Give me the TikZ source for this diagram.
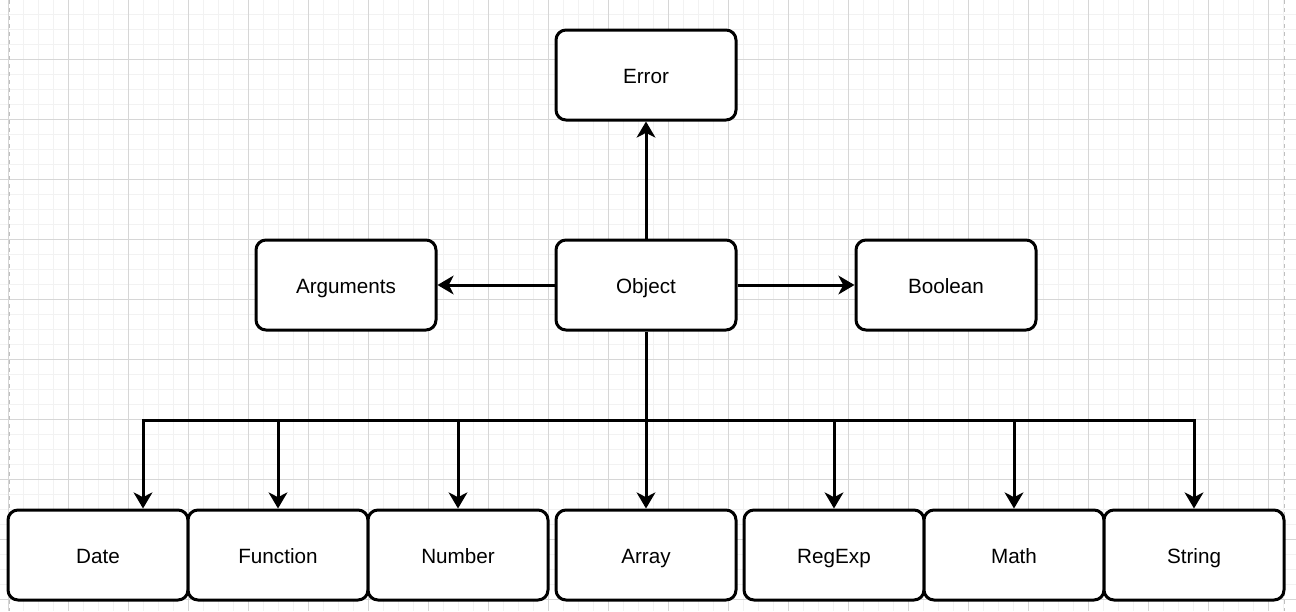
\documentclass[tikz,border=0pt]{standalone}
\usepackage{fontspec}
\setmainfont{Liberation Sans}
\usetikzlibrary{arrows.meta,calc}

\tikzset{
  box/.style={draw, line width=2.25pt, rounded corners=7.5pt, fill=white,
    minimum width=135pt, minimum height=67.5pt, inner sep=0pt,
    text height=15pt, text depth=1.7pt,
    font=\fontsize{15.5}{18}\selectfont},
  link/.style={line width=2.25pt, -{Stealth[length=12pt,width=14pt,inset=3.5pt]}},
  trunk/.style={line width=2.25pt},
  minor/.style={draw=black!5, line width=0.75pt},
  major/.style={draw=black!16, line width=0.75pt},
  edge line/.style={draw=black!25, line width=0.75pt, dash pattern=on 3pt off 3pt},
}

\begin{document}
\begin{tikzpicture}[x=0.75pt,y=-0.75pt]
\useasboundingbox (0,0) rectangle (1296,611);

% grille de fond
\foreach \x in {8,23,...,1296} \draw[minor] (\x,0) -- (\x,611);
\foreach \y in {14,29,...,611} \draw[minor] (0,\y) -- (1296,\y);
\foreach \x in {8,68,...,1296} \draw[major] (\x,0) -- (\x,611);
\foreach \y in {59,119,...,611} \draw[major] (0,\y) -- (1296,\y);
\draw[edge line] (9,0) -- (9,611);
\draw[edge line] (1284,0) -- (1284,611);

% ligne du haut
\node[box] (error) at (646,75) {Error};
\node[box] (object) at (646,285) {Object};
\node[box] (arguments) at (346,285) {Arguments};
\node[box] (boolean) at (946,285) {Boolean};

% ligne du bas
\node[box] (date) at (98,555) {Date};
\node[box] (function) at (278,555) {Function};
\node[box] (number) at (458,555) {Number};
\node[box] (array) at (646,555) {Array};
\node[box] (regexp) at (834,555) {RegExp};
\node[box] (math) at (1014,555) {Math};
\node[box] (string) at (1194,555) {String};

% fleches
\draw[link] (object) -- (error);
\draw[link] (object) -- (arguments);
\draw[link] (object) -- (boolean);
\coordinate (hub) at (646,420);
\draw[trunk] (object.south) -- (hub);
\draw[link] (hub) -| ($(date.north)+(45,0)$);
\draw[link] (hub) -| (function.north);
\draw[link] (hub) -| (number.north);
\draw[link] (hub) -- (array.north);
\draw[link] (hub) -| (regexp.north);
\draw[link] (hub) -| (math.north);
\draw[link] (hub) -| (string.north);
\end{tikzpicture}
\end{document}
